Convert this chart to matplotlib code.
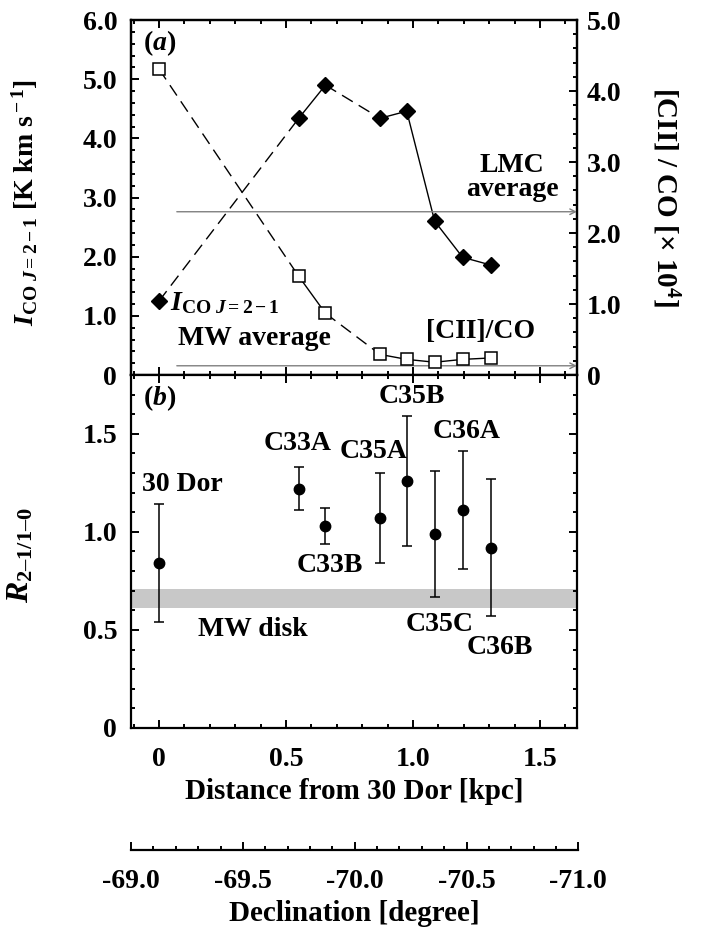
import matplotlib
matplotlib.use("Agg")
import matplotlib.pyplot as plt
from matplotlib.ticker import MultipleLocator, FixedLocator, FixedFormatter

plt.rcParams["font.family"] = ["Liberation Serif", "DejaVu Serif"]
plt.rcParams["font.weight"] = "bold"
plt.rcParams["axes.labelweight"] = "bold"
plt.rcParams["mathtext.fontset"] = "custom"
plt.rcParams["mathtext.rm"] = "Liberation Serif:bold"
plt.rcParams["mathtext.it"] = "Liberation Serif:italic:bold"
plt.rcParams["mathtext.bf"] = "Liberation Serif:bold"

# ---------------------------------------------------------------------------
# Data
# ---------------------------------------------------------------------------
dist_kpc = [0.0, 0.55, 0.655, 0.87, 0.975, 1.085, 1.195, 1.305]

# panel (a)
i_co21 = [1.25, 4.34, 4.90, 4.34, 4.46, 2.60, 1.99, 1.86]      # K km/s
cii_co = [4.31, 1.39, 0.87, 0.29, 0.22, 0.18, 0.22, 0.24]      # x 1e4
seg_styles = ["dashed", "solid", "dashed", "solid", "solid", "solid", "solid"]
lmc_avg = 2.3
mw_avg = 0.13

# panel (b)
cloud_names = ["30 Dor", "C33A", "C33B", "C35A", "C35B", "C35C", "C36A", "C36B"]
r21 = [0.84, 1.22, 1.03, 1.07, 1.26, 0.99, 1.11, 0.92]
r21_err = [0.30, 0.11, 0.09, 0.23, 0.33, 0.32, 0.30, 0.35]
mw_disk = (0.61, 0.71)

# declination axis
dec_ticks = [-69.0, -69.5, -70.0, -70.5, -71.0]
dec_labels = ["-69.0", "-69.5", "-70.0", "-70.5", "-71.0"]

# label placement (kpc, R) for the cloud names
name_pos = {
    "30 Dor": (0.09, 1.24), "C33A": (0.547, 1.45), "C33B": (0.673, 0.83),
    "C35A": (0.843, 1.41), "C35B": (0.994, 1.69), "C36A": (1.21, 1.51),
    "C35C": (1.106, 0.525), "C36B": (1.343, 0.41),
}

XLIM = (-0.11, 1.645)
FS = 20
LFS = 21
DASH = (0, (9, 5))


def style_axis(ax):
    for s in ax.spines.values():
        s.set_linewidth(1.6)
    ax.tick_params(which="both", direction="in", width=1.4, labelsize=FS)
    ax.tick_params(which="major", length=6)
    ax.tick_params(which="minor", length=3)


fig = plt.figure(figsize=(7.01, 9.34), dpi=100)

# ---------------------------------------------------------------------------
# (a)
# ---------------------------------------------------------------------------
ax = fig.add_axes([0.187, 0.5985, 0.636, 0.380])
ax2 = ax.twinx()
for i in range(len(dist_kpc) - 1):
    ls = DASH if seg_styles[i] == "dashed" else "-"
    ax.plot(dist_kpc[i:i + 2], i_co21[i:i + 2], color="k", lw=1.0, ls=ls)
    ax2.plot(dist_kpc[i:i + 2], cii_co[i:i + 2], color="k", lw=1.0, ls=ls)
ax.plot(dist_kpc, i_co21, ls="none", marker="D", ms=8.5, color="k", zorder=5)
ax2.plot(dist_kpc, cii_co, ls="none", marker="s", ms=8, mfc="white",
         mec="k", mew=1.1, zorder=5)

for yv in (lmc_avg, mw_avg):
    ax2.annotate("", xy=(XLIM[1], yv), xytext=(0.07, yv),
                 arrowprops=dict(arrowstyle="->", color="#808080", lw=1.0,
                                 shrinkA=0, shrinkB=0))

ax.set_xlim(*XLIM)
ax.set_ylim(0, 6)
ax2.set_ylim(0, 5)
ax.xaxis.set_major_locator(MultipleLocator(0.5))
ax.xaxis.set_minor_locator(MultipleLocator(0.1))
ax.yaxis.set_major_locator(MultipleLocator(1))
ax.yaxis.set_minor_locator(MultipleLocator(0.2))
ax2.yaxis.set_major_locator(MultipleLocator(1))
ax2.yaxis.set_minor_locator(MultipleLocator(0.2))
style_axis(ax)
style_axis(ax2)
ax.tick_params(axis="x", which="both", top=True, bottom=True, labelbottom=False)
ax.tick_params(axis="y", pad=10)
ax2.tick_params(axis="y", pad=7)
ax.set_yticks([0, 1, 2, 3, 4, 5, 6], ["0", "1.0", "2.0", "3.0", "4.0", "5.0", "6.0"])
ax2.set_yticks([0, 1, 2, 3, 4, 5], ["0", "1.0", "2.0", "3.0", "4.0", "5.0"])

ax.set_ylabel(r"$I_{\rm CO\ {\it J}=2-1}$ [K km s$^{\rm -1}$]", fontsize=20)
ax.yaxis.set_label_coords(-0.205, 0.485)
ax2.set_ylabel(r"[CII] / CO [$\times$ 10$^{4}$]", fontsize=LFS, rotation=270,
               va="center")
ax2.yaxis.set_label_coords(1.20, 0.5)

ax.text(0.027, 0.935, r"($\it{a}$)", transform=ax.transAxes, fontsize=FS,
        va="center")
ax.text(0.045, 1.22, r"$I_{\rm CO\ {\it J}=2-1}$", fontsize=FS, va="center")
ax.text(1.39, 3.34, "LMC\naverage", fontsize=FS, ha="center", va="center",
        multialignment="center", linespacing=0.95)
ax.text(0.375, 0.62, "MW average", fontsize=FS, ha="center", va="center")
ax.text(1.265, 0.74, "[CII]/CO", fontsize=FS, ha="center", va="center")

# ---------------------------------------------------------------------------
# (b)
# ---------------------------------------------------------------------------
bx = fig.add_axes([0.187, 0.2206, 0.636, 0.378])
bx.axhspan(*mw_disk, color="#c8c8c8", lw=0, zorder=0)
bx.errorbar(dist_kpc, r21, yerr=r21_err, fmt="o", color="k", ms=7.5,
            elinewidth=1.1, capsize=3.5, capthick=1.1, zorder=4)
for name in cloud_names:
    px, py = name_pos[name]
    bx.text(px, py, name, fontsize=FS, ha="center", va="center")
bx.text(0.37, 0.50, "MW disk", fontsize=FS, ha="center", va="center")
bx.text(0.027, 0.935, r"($\it{b}$)", transform=bx.transAxes, fontsize=FS,
        va="center")

bx.set_xlim(*XLIM)
bx.set_ylim(0, 1.8)
bx.xaxis.set_major_locator(MultipleLocator(0.5))
bx.xaxis.set_minor_locator(MultipleLocator(0.1))
bx.yaxis.set_major_locator(MultipleLocator(0.5))
bx.yaxis.set_minor_locator(MultipleLocator(0.1))
style_axis(bx)
bx.tick_params(which="both", top=True, right=True)
bx.tick_params(axis="x", pad=14)
bx.tick_params(axis="y", pad=10)
bx.set_xticks([0, 0.5, 1.0, 1.5], ["0", "0.5", "1.0", "1.5"])
bx.set_yticks([0, 0.5, 1.0, 1.5], ["0", "0.5", "1.0", "1.5"])
bx.set_xlabel("Distance from 30 Dor [kpc]", fontsize=LFS, labelpad=4)
bx.set_ylabel(r"$R_{\rm 2–1/1–0}$", fontsize=23)
bx.yaxis.set_label_coords(-0.215, 0.49)

# ---------------------------------------------------------------------------
# declination axis
# ---------------------------------------------------------------------------
dx = fig.add_axes([0.187, 0.0899, 0.638, 0.02])
dx.patch.set_visible(False)
for side in ("top", "left", "right"):
    dx.spines[side].set_visible(False)
dx.spines["bottom"].set_linewidth(1.6)
dx.set_yticks([])
dx.set_xlim(-69.0, -71.0)
dx.xaxis.set_major_locator(FixedLocator(dec_ticks))
dx.xaxis.set_major_formatter(FixedFormatter(dec_labels))
dx.xaxis.set_minor_locator(MultipleLocator(0.1))
dx.tick_params(which="both", direction="in", width=1.4, labelsize=FS, pad=14)
dx.tick_params(which="major", length=6)
dx.tick_params(which="minor", length=3)
dx.set_xlabel("Declination [degree]", fontsize=LFS, labelpad=4)

fig.savefig("out.png", dpi=100)
